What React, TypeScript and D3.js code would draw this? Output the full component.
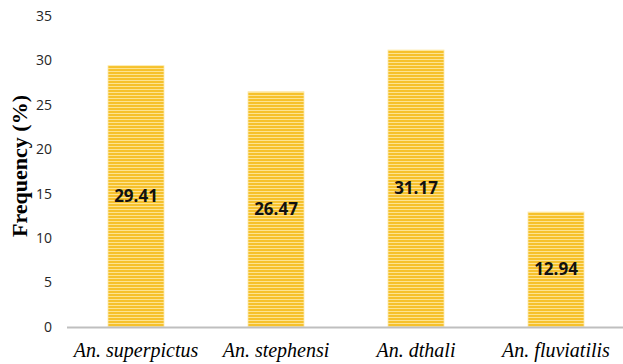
import React, { useRef, useEffect } from 'react';
import * as d3 from 'd3';

const species = ['An. superpictus', 'An. stephensi', 'An. dthali', 'An. fluviatilis'];
const frequency = [29.41, 26.47, 31.17, 12.94];
const yTicks = [0, 5, 10, 15, 20, 25, 30, 35];

const App = () => {
  const ref = useRef<SVGSVGElement | null>(null);

  useEffect(() => {
    if (!ref.current) return;
    const svg = d3.select(ref.current);
    svg.selectAll('*').remove();

    const width = 623;
    const height = 364;

    const x = d3.scaleBand<string>()
      .domain(species)
      .range([66, 626])
      .paddingInner(0.6)
      .paddingOuter(0.3);

    const y = d3.scaleLinear().domain([0, 35]).range([327, 16]);

    // striped fill like the original
    const defs = svg.append('defs');
    const pat = defs.append('pattern')
      .attr('id', 'stripes')
      .attr('patternUnits', 'userSpaceOnUse')
      .attr('width', 8)
      .attr('height', 3);
    pat.append('rect').attr('width', 8).attr('height', 3).attr('fill', '#F6C12C');
    pat.append('rect').attr('y', 2).attr('width', 8).attr('height', 1).attr('fill', '#FDE391');

    // y axis tick labels
    svg.append('g')
      .selectAll('text')
      .data(yTicks)
      .join('text')
      .attr('x', 52)
      .attr('y', d => y(d))
      .attr('dy', '0.35em')
      .attr('text-anchor', 'end')
      .attr('font-family', 'Open Sans, sans-serif')
      .attr('font-size', 14)
      .attr('fill', '#262626')
      .text(d => d);

    // bars
    svg.append('g')
      .selectAll('rect')
      .data(frequency)
      .join('rect')
      .attr('x', (d, i) => x(species[i])!)
      .attr('y', d => y(d))
      .attr('width', x.bandwidth())
      .attr('height', d => y(0) - y(d))
      .attr('fill', 'url(#stripes)')
      .attr('stroke', '#FCE9A8')
      .attr('stroke-width', 0.8);

    // value labels
    svg.append('g')
      .selectAll('text')
      .data(frequency)
      .join('text')
      .attr('x', (d, i) => x(species[i])! + x.bandwidth() / 2)
      .attr('y', d => (y(d) + y(0)) / 2)
      .attr('dy', '0.35em')
      .attr('text-anchor', 'middle')
      .attr('font-family', 'Open Sans, sans-serif')
      .attr('font-weight', 'bold')
      .attr('font-size', 17)
      .attr('fill', '#111')
      .text(d => d.toFixed(2));

    // baseline
    svg.append('line')
      .attr('x1', 67)
      .attr('x2', width)
      .attr('y1', y(0) + 0.5)
      .attr('y2', y(0) + 0.5)
      .attr('stroke', '#BFBFBF')
      .attr('stroke-width', 2);

    // category labels
    svg.append('g')
      .selectAll('text')
      .data(species)
      .join('text')
      .attr('x', d => x(d)! + x.bandwidth() / 2)
      .attr('y', 357)
      .attr('text-anchor', 'middle')
      .attr('font-family', 'Liberation Serif, serif')
      .attr('font-style', 'italic')
      .attr('font-size', 20)
      .attr('fill', '#000')
      .text(d => d);

    // y axis title
    svg.append('text')
      .attr('transform', `translate(27,166) rotate(-90)`)
      .attr('text-anchor', 'middle')
      .attr('font-family', 'Liberation Serif, serif')
      .attr('font-weight', 'bold')
      .attr('font-size', 22)
      .attr('fill', '#000')
      .text('Frequency (%)');

    svg.attr('width', width).attr('height', height);
  }, []);

  return (
    <svg
      ref={ref}
      width={623}
      height={364}
      style={{ position: 'absolute', left: 0, top: 0, background: '#fff' }}
    />
  );
};

export default App;
